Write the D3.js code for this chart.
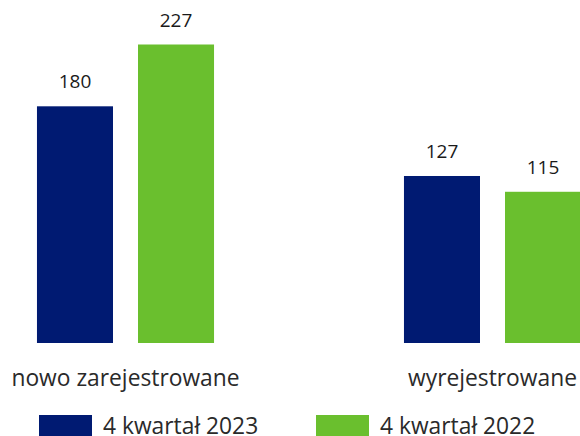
<!DOCTYPE html>
<html>
<head>
<meta charset="utf-8">
<script src="https://cdn.jsdelivr.net/npm/d3@7"></script>
<style>
  body { margin: 0; background: #fff; }
  svg { display: block; font-family: "Open Sans", sans-serif; }
  .value-label { font-size: 19px; fill: #1a1a1a; }
  .cat-label { font-size: 22.8px; fill: #2a2a2a; }
  .legend-label { font-size: 22.8px; fill: #2a2a2a; }
</style>
</head>
<body>
<div id="chart"></div>
<script>
// data
const categories = ['nowo zarejestrowane', 'wyrejestrowane'];
const seriesNames = ['4 kwartał 2023', '4 kwartał 2022'];
const values2023 = [180, 127];
const values2022 = [227, 115];
const seriesColors = ['#001a72', '#6abf2e'];

const width = 580, height = 436;
const baseline = 343;

const svg = d3.select('#chart')
  .append('svg')
  .attr('width', width)
  .attr('height', height);

const rows = categories.map((c, i) => ({
  category: c,
  values: [values2023[i], values2022[i]]
}));

// group scale (the plot runs past the right edge, like the original)
const x0 = d3.scaleBand()
  .domain(categories)
  .range([-58, 676])
  .padding(0);

const x1 = d3.scaleBand()
  .domain(seriesNames)
  .range([0, x0.bandwidth()])
  .paddingInner(0.2475)
  .paddingOuter(0.94);

const y = d3.scaleLinear()
  .domain([0, 227])
  .range([baseline, 44.5]);

const groups = svg.selectAll('g.group')
  .data(rows)
  .enter()
  .append('g')
  .attr('class', 'group')
  .attr('transform', d => `translate(${x0(d.category)},0)`);

const bars = groups.selectAll('g.bar')
  .data(d => d.values.map((v, j) => ({ name: seriesNames[j], value: v, color: seriesColors[j] })))
  .enter()
  .append('g')
  .attr('class', 'bar');

bars.append('rect')
  .attr('x', d => x1(d.name))
  .attr('y', d => y(d.value))
  .attr('width', x1.bandwidth())
  .attr('height', d => baseline - y(d.value))
  .attr('fill', d => d.color);

bars.append('text')
  .attr('class', 'value-label')
  .attr('text-anchor', 'middle')
  .attr('x', d => x1(d.name) + x1.bandwidth() / 2)
  .attr('y', d => y(d.value) - 18)
  .text(d => d.value);

// category labels
groups.append('text')
  .attr('class', 'cat-label')
  .attr('text-anchor', 'middle')
  .attr('x', x0.bandwidth() / 2)
  .attr('y', 386)
  .text(d => d.category);

// legend (sits at the bottom edge like the original)
const legendX = [39, 316];
const legend = svg.selectAll('g.legend')
  .data(seriesNames)
  .enter()
  .append('g')
  .attr('class', 'legend')
  .attr('transform', (d, i) => `translate(${legendX[i]},0)`);

legend.append('rect')
  .attr('x', 0)
  .attr('y', 415)
  .attr('width', 53)
  .attr('height', 22)
  .attr('fill', (d, i) => seriesColors[i]);

legend.append('text')
  .attr('class', 'legend-label')
  .attr('x', 64)
  .attr('y', 434)
  .text(d => d);
</script>
</body>
</html>
